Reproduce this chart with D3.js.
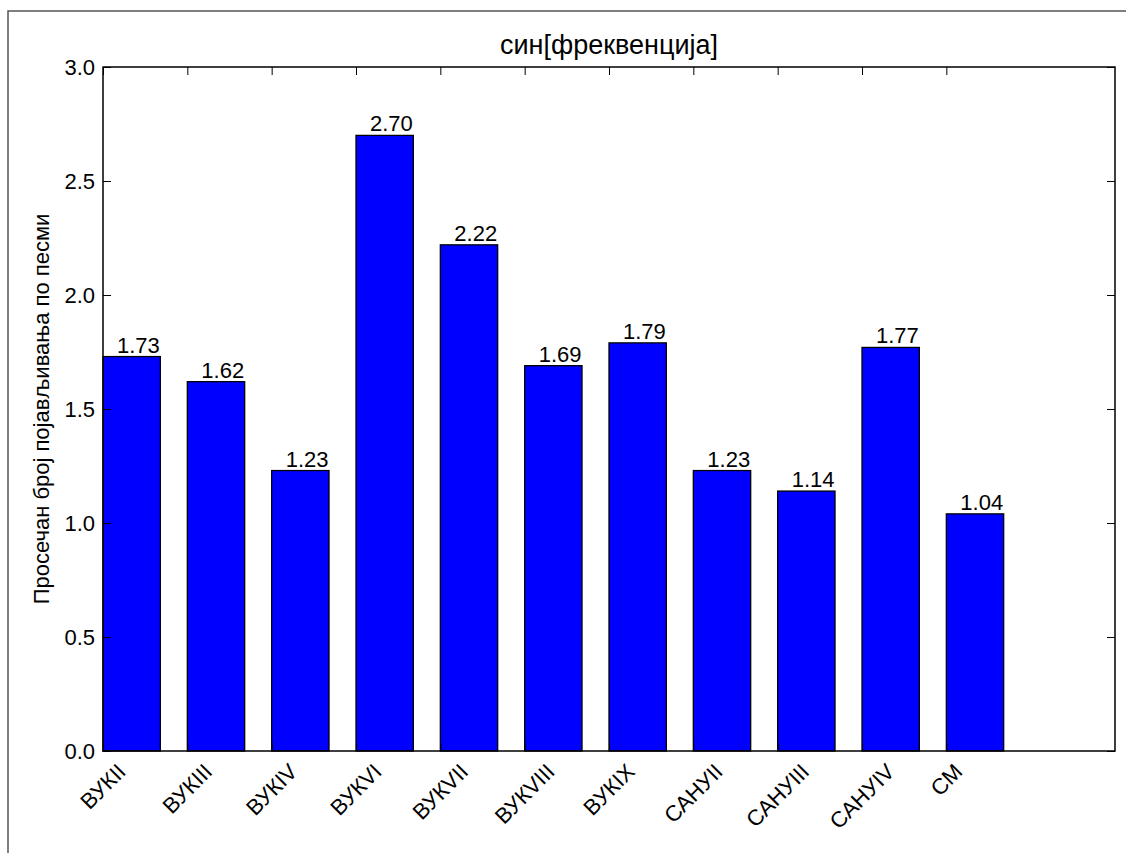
<!DOCTYPE html>
<html><head><meta charset="utf-8">
<script src="https://cdn.jsdelivr.net/npm/d3@7"></script>
<style>body{margin:0;background:#fff}svg{display:block}text{font-family:"Liberation Sans",Arial,sans-serif;fill:#000}</style>
</head><body><svg id="c" width="1126" height="853"></svg>
<script>
const categories = ["ВУКII","ВУКIII","ВУКIV","ВУКVI","ВУКVII","ВУКVIII","ВУКIX","САНУII","САНУIII","САНУIV","СМ"];
const values = [1.73,1.62,1.23,2.70,2.22,1.69,1.79,1.23,1.14,1.77,1.04];
const yTicks = [0,0.5,1.0,1.5,2.0,2.5,3.0];
const title = "син[фреквенција]";
const yLabel = "Просечан број појављивања по песми";

const svg = d3.select("#c");
const L=103, R=1115, T=67, B=751, FS=22;
const x = d3.scaleLinear().domain([0,12]).range([L,R]);
const y = d3.scaleLinear().domain([0,3]).range([B,T]);
const barW = 0.68, labelOff = 0.42;

// outer frame (top/left only)
svg.append("path").attr("d","M8,853V11H1126").attr("fill","none").attr("stroke","#555").attr("stroke-width",1.5);

// bars
svg.selectAll("rect.bar").data(values).join("rect").attr("class","bar")
  .attr("x",(d,i)=>x(i)).attr("width",x(barW)-x(0))
  .attr("y",d=>y(d)).attr("height",d=>y(0)-y(d))
  .attr("fill","#0000ff").attr("stroke","#000").attr("stroke-width",1.3);

// value labels
svg.selectAll("text.val").data(values).join("text").attr("class","val")
  .attr("x",(d,i)=>x(i+labelOff)).attr("y",d=>y(d)-4)
  .attr("text-anchor","middle").attr("font-size",FS).text(d=>d.toFixed(2));

// axes frame
svg.append("rect").attr("x",L).attr("y",T).attr("width",R-L).attr("height",B-T)
  .attr("fill","none").attr("stroke","#000").attr("stroke-width",1.5);

// y axis (inward ticks, both sides)
const yl = svg.append("g").attr("transform",`translate(${L},0)`)
  .call(d3.axisLeft(y).tickValues(yTicks).tickSize(-8).tickPadding(8).tickFormat(d3.format(".1f")));
yl.select(".domain").remove();
yl.selectAll("text").attr("font-size",FS).attr("font-family",'"Liberation Sans",Arial,sans-serif').attr("dy","0.35em");
const yr = svg.append("g").attr("transform",`translate(${R},0)`)
  .call(d3.axisRight(y).tickValues(yTicks).tickSize(-8).tickFormat(""));
yr.select(".domain").remove();

// x axis ticks
const xTickVals = d3.range(categories.length);
const xb = svg.append("g").attr("transform",`translate(0,${B})`)
  .call(d3.axisBottom(x).tickValues(xTickVals).tickSize(-8).tickFormat(""));
xb.select(".domain").remove();
const xt = svg.append("g").attr("transform",`translate(0,${T})`)
  .call(d3.axisTop(x).tickValues(xTickVals).tickSize(-8).tickFormat(""));
xt.select(".domain").remove();
svg.selectAll(".tick line").attr("stroke","#000").attr("stroke-width",1);

// rotated x labels, bbox centred under tick
const xl = svg.append("g");
categories.forEach((c,i)=>{
  const t = xl.append("text").attr("font-size",FS).attr("text-anchor","middle")
    .attr("dominant-baseline","central").text(c);
  const w = t.node().getComputedTextLength();
  const h = FS*0.75;
  const half = (w+h)/(2*Math.SQRT2);
  const cx = x(i), cy = B + 11 + half;
  t.attr("transform",`translate(${cx},${cy}) rotate(-45)`);
});

// title
svg.append("text").attr("x",(L+R)/2).attr("y",54).attr("text-anchor","middle")
  .attr("font-size",27).text(title);

// y label
svg.append("text").attr("transform",`translate(48.5,${(T+B)/2}) rotate(-90)`)
  .attr("text-anchor","middle").attr("font-size",FS).text(yLabel);
</script></body></html>
